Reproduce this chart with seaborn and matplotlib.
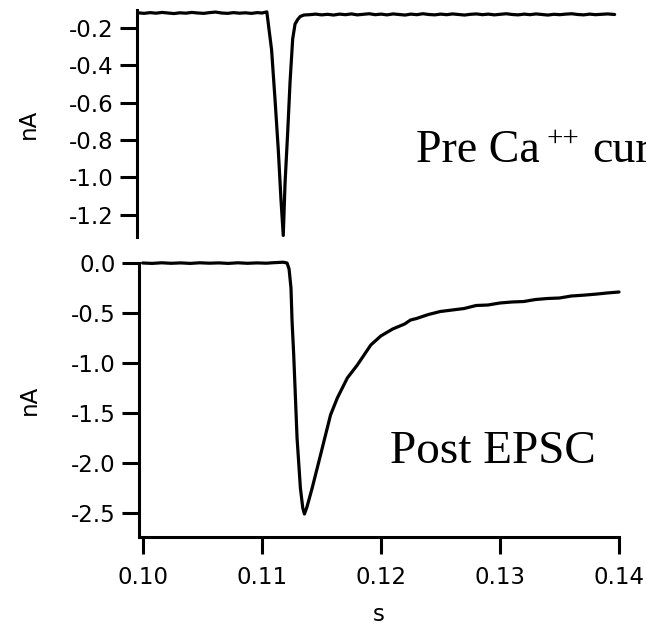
import numpy as np
import pandas as pd
import matplotlib
matplotlib.use("Agg")
import matplotlib.pyplot as plt
import seaborn as sns

# ---- data ----
pre_t = [0.0998, 0.1003, 0.1008, 0.1013, 0.1018, 0.1023, 0.1028, 0.1033, 0.1038, 0.1043,
         0.1048, 0.1053, 0.1058, 0.1063, 0.1068, 0.1073, 0.1078, 0.1083, 0.1088, 0.1093,
         0.1098, 0.1102, 0.1106, 0.1110, 0.11129, 0.11156, 0.11179, 0.11198, 0.11213,
         0.11235, 0.11255, 0.11277, 0.11297, 0.1132, 0.1134, 0.1137, 0.1142, 0.1147,
         0.1152, 0.1157, 0.1162, 0.1167, 0.1172, 0.1177, 0.1182, 0.1187, 0.1192, 0.1197,
         0.1202, 0.1207, 0.1212, 0.1217, 0.1222, 0.1227, 0.1232, 0.1237, 0.1242, 0.1247,
         0.1252, 0.1257, 0.1262, 0.1267, 0.1272, 0.1277, 0.1282, 0.1287, 0.1292, 0.1297,
         0.1302, 0.1307, 0.1312, 0.1317, 0.1322, 0.1327, 0.1332, 0.1337, 0.1342, 0.1347,
         0.1352, 0.1357, 0.1362, 0.1367, 0.1372, 0.1377, 0.1382, 0.1387, 0.1392, 0.1398]
pre_i = [-0.120, -0.123, -0.119, -0.122, -0.118, -0.121, -0.124, -0.120, -0.122, -0.118,
         -0.121, -0.123, -0.119, -0.116, -0.121, -0.123, -0.119, -0.122, -0.120, -0.123,
         -0.119, -0.121, -0.115, -0.318, -0.585, -0.850, -1.120, -1.310, -1.030,
         -0.760, -0.490, -0.260, -0.180, -0.155, -0.140, -0.132, -0.130, -0.127,
         -0.131, -0.128, -0.132, -0.127, -0.130, -0.126, -0.131, -0.128, -0.125, -0.130,
         -0.127, -0.131, -0.126, -0.129, -0.132, -0.127, -0.130, -0.125, -0.129, -0.131,
         -0.127, -0.130, -0.126, -0.129, -0.132, -0.128, -0.126, -0.130, -0.127, -0.131,
         -0.128, -0.125, -0.129, -0.131, -0.127, -0.130, -0.126, -0.129, -0.132, -0.128,
         -0.130, -0.127, -0.125, -0.129, -0.131, -0.127, -0.130, -0.128, -0.126, -0.129]

post_t = [0.1000, 0.1008, 0.1016, 0.1024, 0.1032, 0.1040, 0.1048, 0.1056, 0.1064, 0.1072,
          0.1080, 0.1088, 0.1096, 0.1104, 0.1110, 0.1115, 0.1118, 0.11213, 0.11230,
          0.11246, 0.11255, 0.11269, 0.11297, 0.11325, 0.11345, 0.11359, 0.11380,
          0.11424, 0.11494, 0.11578, 0.11635, 0.11719, 0.11803, 0.11916, 0.1200,
          0.1210, 0.1220, 0.1225, 0.1230, 0.1240, 0.1250, 0.1260, 0.1270, 0.1280,
          0.1290, 0.1300, 0.1310, 0.1320, 0.1330, 0.1340, 0.1350, 0.1360, 0.1370,
          0.1380, 0.1390, 0.1400]
post_i = [0.000, -0.004, 0.002, -0.003, 0.001, -0.004, 0.002, -0.002, 0.001, -0.004,
          0.002, -0.003, 0.001, -0.002, 0.003, 0.006, 0.008, 0.000, -0.060,
          -0.250, -0.580, -0.920, -1.750, -2.250, -2.450, -2.510, -2.440,
          -2.250, -1.920, -1.520, -1.350, -1.150, -1.020, -0.820, -0.730,
          -0.660, -0.610, -0.570, -0.555, -0.515, -0.485, -0.470, -0.455, -0.425,
          -0.420, -0.400, -0.390, -0.385, -0.365, -0.355, -0.350, -0.330, -0.322,
          -0.312, -0.300, -0.290]

pre_yticks = [-0.2, -0.4, -0.6, -0.8, -1.0, -1.2]
post_yticks = [0.0, -0.5, -1.0, -1.5, -2.0, -2.5]
xticks = [0.10, 0.11, 0.12, 0.13, 0.14]

pre_df = pd.DataFrame({"s": pre_t, "nA": pre_i})
post_df = pd.DataFrame({"s": post_t, "nA": post_i})

# ---- style ----
sns.set_style("ticks")
plt.rcParams["font.family"] = ["DejaVu Sans"]
plt.rcParams["text.color"] = "black"
plt.rcParams["axes.labelcolor"] = "black"
plt.rcParams["axes.edgecolor"] = "black"
plt.rcParams["xtick.color"] = "black"
plt.rcParams["ytick.color"] = "black"

W, H = 646, 629
fig = plt.figure(figsize=(W / 100, H / 100), dpi=100)

def frac_box(x0, y0, x1, y1):
    return [x0 / W, 1 - y1 / H, (x1 - x0) / W, (y1 - y0) / H]

ax1 = fig.add_axes(frac_box(137, 10, 617, 237))
ax2 = fig.add_axes(frac_box(139, 263, 619, 537))

lw = 2.3
sns.lineplot(data=pre_df, x="s", y="nA", ax=ax1, color="black", lw=lw,
             sort=False, estimator=None)
sns.lineplot(data=post_df, x="s", y="nA", ax=ax2, color="black", lw=lw,
             sort=False, estimator=None)

tick_fs = 16.5
for ax in (ax1, ax2):
    for sp in ("top", "right"):
        ax.spines[sp].set_visible(False)
    for sp in ("left", "bottom"):
        ax.spines[sp].set_linewidth(2.2)
        ax.spines[sp].set_color("black")
    ax.tick_params(axis="both", direction="out", length=12, width=2.2,
                   labelsize=tick_fs, pad=5, color="black", labelcolor="black")
    ax.set_xlim(0.0997, 0.1400)
    ax.set_facecolor("white")

ax1.spines["bottom"].set_visible(False)
ax1.set_xticks([])
ax1.set_xlabel("")
ax1.set_ylim(-1.318, -0.105)
ax1.set_yticks(pre_yticks)
ax1.set_yticklabels([f"{v:.1f}" for v in pre_yticks])
ax1.set_ylabel("nA", fontsize=tick_fs, labelpad=21, color="black")

ax2.set_ylim(-2.74, 0.0)
ax2.set_yticks(post_yticks)
ax2.set_yticklabels([f"{v:.1f}" for v in post_yticks])
ax2.set_xticks(xticks)
ax2.set_xticklabels([f"{v:.2f}" for v in xticks])
ax2.tick_params(axis="x", pad=9)
ax2.set_ylabel("nA", fontsize=tick_fs, labelpad=21, color="black")
ax2.set_xlabel("s", fontsize=tick_fs, labelpad=10, color="black")
for line in ax2.get_lines():
    line.set_clip_on(False)

serif = "Liberation Serif"
fig.text(416 / W, 1 - 161.5 / H, "Pre Ca", family=serif, color="black",
         fontsize=33, va="baseline", ha="left")
fig.text(546 / W, 1 - 146 / H, "++", family=serif, color="black",
         fontsize=21, va="baseline", ha="left")
fig.text(592 / W, 1 - 161.5 / H, "current", family=serif, color="black",
         fontsize=33, va="baseline", ha="left")
fig.text(390 / W, 1 - 462.7 / H, "Post EPSC", family=serif, color="black",
         fontsize=34, va="baseline", ha="left")

fig.savefig("out.png", dpi=100, facecolor="white")
